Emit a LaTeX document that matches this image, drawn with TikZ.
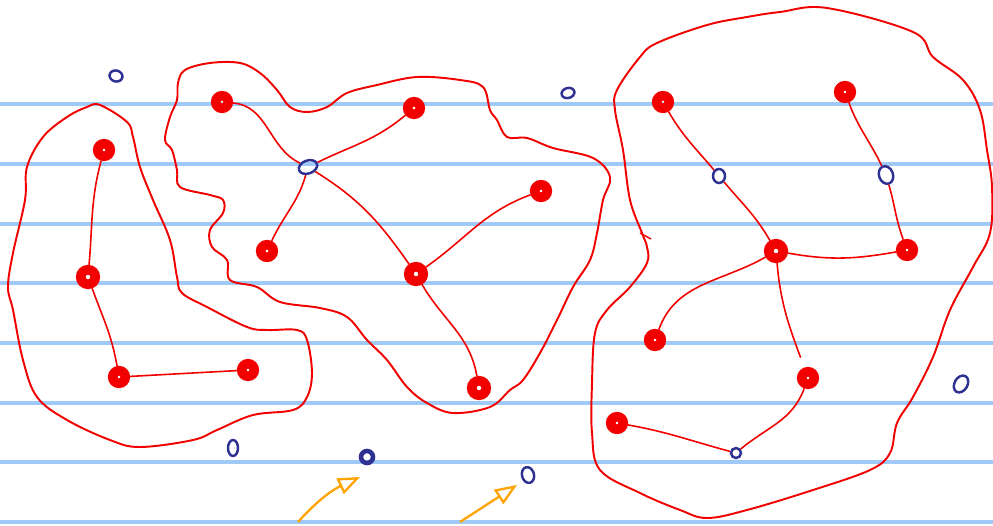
\documentclass[tikz,border=0pt]{standalone}
\usepackage{tikz}
\usetikzlibrary{arrows.meta,shapes.geometric}
\definecolor{ruled}{HTML}{9FC9F7}
\definecolor{inkred}{HTML}{F20000}
\definecolor{inkblue}{HTML}{2E3192}
\definecolor{inkorange}{HTML}{FFA300}

\begin{document}
\begin{tikzpicture}[x=0.02cm, y=0.02cm,
    reddot/.style={circle, draw=inkred, line width=5.5pt, inner sep=0pt, minimum size=0.25cm},
    bluering/.style={ellipse, draw=inkblue, line width=1.4pt, inner sep=0pt, minimum width=0.26cm, minimum height=0.22cm},
    link/.style={draw=inkred, line width=0.9pt},
    blob/.style={draw=inkred, line width=1.1pt},
    pointer/.style={draw=inkorange, line width=1.3pt, -{Triangle[open, length=4.4mm, width=3.4mm]}}]
    \useasboundingbox (0,0) rectangle (993,525);
    \foreach \y in {3,63,122,182,242,301,361,421}
      \draw[ruled, line width=1.8pt] (0,\y) -- (993,\y);

    % the three regions
    \draw[blob] plot[smooth cycle, tension=0.6] coordinates {(100,420) (127,403) (133,388) (140,358) (153,325) (170,285) (177,248) (182,232) (207,218) (247,198) (267,195) (297,195) (307,185) (312,152) (307,128) (293,115) (253,110) (217,95) (193,85) (140,78) (110,85) (67,105) (37,128) (23,165) (13,215) (8,238) (13,272) (25,325) (27,358) (43,388) (67,408) (87,418)};
    \draw[blob] plot[smooth cycle, tension=0.6] coordinates {(185,455) (210,462) (240,462) (260,452) (277,435) (290,418) (307,413) (327,418) (347,432) (377,440) (417,448) (460,445) (483,438) (490,415) (497,405) (507,388) (527,387) (553,377) (593,367) (610,348) (603,325) (597,292) (590,265) (573,238) (557,205) (540,172) (523,145) (510,135) (490,118) (453,112) (427,122) (407,138) (387,165) (367,185) (347,208) (320,217) (280,223) (257,238) (230,245) (227,265) (212,278) (210,295) (223,312) (223,325) (210,330) (180,338) (177,355) (172,375) (165,385) (170,408) (177,425) (178,442)};
    \draw[blob] plot[smooth cycle, tension=0.6] coordinates {(827,517) (913,493) (933,468) (963,445) (980,415) (987,375) (992,338) (990,292) (973,258) (950,215) (933,168) (913,128) (897,102) (890,72) (870,55) (813,35) (747,15) (707,7) (680,15) (640,32) (600,55) (592,92) (592,142) (595,192) (607,215) (630,238) (647,262) (647,278) (642,292) (630,325) (623,375) (615,415) (617,435) (640,468) (657,482) (707,500) (747,508) (780,513)};
    \draw[blob, line width=0.8pt] (640,292) -- (651,286);

    % left group
    \node[reddot] (l1) at (104,375) {};
    \node[reddot, minimum size=0.29cm] (l2) at (88,248) {};
    \node[reddot] (l3) at (119,148) {};
    \node[reddot] (l4) at (248,155) {};
    \draw[link] (l1) to[out=-105, in=85] (l2);
    \draw[link] (l2) to[out=-70, in=100] (l3);
    \draw[link] (l3) -- (l4);

    % middle group
    \node[reddot] (m1) at (222,423) {};
    \node[reddot] (m2) at (414,417) {};
    \node[reddot] (m3) at (267,274) {};
    \node[reddot] (m4) at (541,334) {};
    \node[reddot, minimum size=0.29cm] (m5) at (416,251) {};
    \node[reddot, minimum size=0.29cm] (m6) at (479,137) {};
    \node[bluering, rotate=20, minimum width=0.38cm, minimum height=0.26cm] (mhub) at (308,358) {};
    \draw[link] (m1) to[out=-5, in=150] (mhub);
    \draw[link] (mhub) to[out=22, in=-140] (m2);
    \draw[link] (mhub) to[out=-110, in=65] (m3);
    \draw[link] (mhub) to[out=-35, in=125] (m5);
    \draw[link] (m5) to[out=35, in=200] (m4);
    \draw[link] (m5) to[out=-60, in=100] (m6);

    % right group
    \node[reddot] (r1) at (663,423) {};
    \node[reddot] (r2) at (845,433) {};
    \node[bluering, minimum width=0.24cm, minimum height=0.28cm] (rhubA) at (719,349) {};
    \node[bluering, rotate=20, minimum width=0.28cm, minimum height=0.36cm] (rhubB) at (886,350) {};
    \node[reddot, minimum size=0.29cm] (r3) at (776,274) {};
    \node[reddot] (r4) at (907,275) {};
    \node[reddot] (r5) at (655,185) {};
    \node[reddot] (r6) at (808,147) {};
    \node[reddot] (r7) at (617,102) {};
    \node[bluering, minimum size=0.2cm] (rhubC) at (736,72) {};
    \draw[link] (r1) to[out=-60, in=130] (rhubA);
    \draw[link] (rhubA) to[out=-50, in=120] (r3);
    \draw[link] (r2) to[out=-70, in=110] (rhubB);
    \draw[link] (rhubB) to[out=-80, in=110] (r4);
    \draw[link] (r3) to[out=-10, in=190] (r4);
    \draw[link] (r3) to[out=210, in=70] (r5);
    \draw[link, shorten >=6pt] (r3) to[out=-85, in=110] (r6);
    \draw[link] (r6) to[out=-110, in=40] (rhubC);
    \draw[link] (r7) to[out=-10, in=165] (rhubC);

    % loose vertices
    \node[bluering, rotate=-15] (u1) at (116,449) {};
    \node[bluering, rotate=15, minimum height=0.2cm] (u2) at (568,432) {};
    \node[bluering, minimum width=0.2cm, minimum height=0.32cm] (u3) at (233,77) {};
    \node[bluering, line width=2.6pt, minimum size=0.24cm] (u4) at (367,68) {};
    \node[bluering, rotate=15, minimum width=0.24cm, minimum height=0.32cm] (u5) at (528,50) {};
    \node[bluering, rotate=-30, minimum width=0.26cm, minimum height=0.36cm] (u6) at (961,141) {};

    \coordinate (tailA) at (298,3);
    \coordinate (tipA) at (360,48);
    \coordinate (tailB) at (460,3);
    \coordinate (tipB) at (517,40);
    \draw[pointer] (tailA) to[out=48, in=205] (tipA);
    \draw[pointer] (tailB) -- (tipB);
\end{tikzpicture}
\end{document}
